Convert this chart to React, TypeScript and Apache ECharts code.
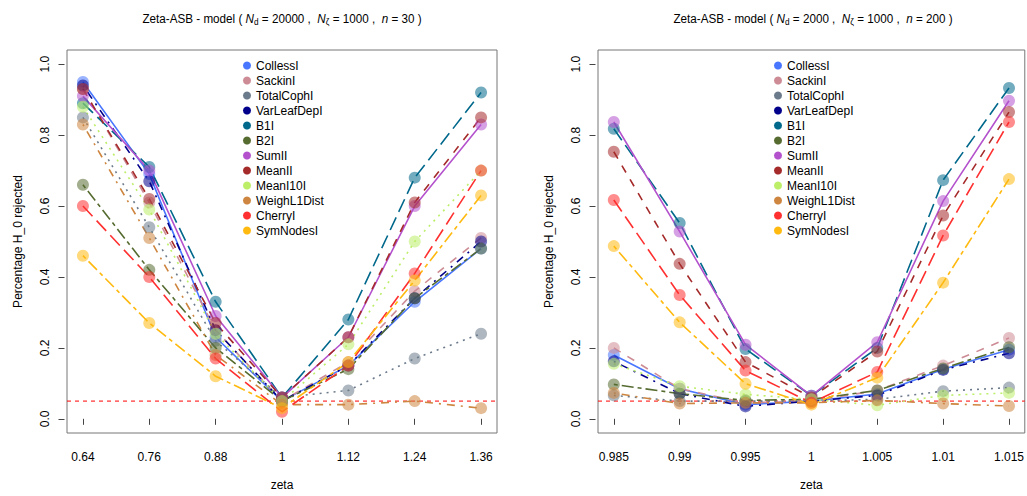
import React, { useEffect, useRef } from "react";
import * as echarts from "echarts";

// ---------- data ----------
const seriesNames = [
  "CollessI", "SackinI", "TotalCophI", "VarLeafDepI", "B1I", "B2I",
  "SumII", "MeanII", "MeanI10I", "WeighL1Dist", "CherryI", "SymNodesI",
];

const zetaLeft = [0.64, 0.76, 0.88, 1, 1.12, 1.24, 1.36];
const zetaRight = [0.985, 0.99, 0.995, 1, 1.005, 1.01, 1.015];
const yTickValues = [0, 0.2, 0.4, 0.6, 0.8, 1];
const threshold = 0.05;

// left panel (N_d = 20000, n = 30)
const leftCollessI = [0.95, 0.69, 0.23, 0.05, 0.15, 0.33, 0.48];
const leftSackinI = [0.93, 0.61, 0.25, 0.05, 0.16, 0.36, 0.51];
const leftTotalCophI = [0.85, 0.54, 0.22, 0.06, 0.08, 0.17, 0.24];
const leftVarLeafDepI = [0.94, 0.67, 0.25, 0.05, 0.15, 0.34, 0.5];
const leftB1I = [0.89, 0.71, 0.33, 0.06, 0.28, 0.68, 0.92];
const leftB2I = [0.66, 0.42, 0.2, 0.05, 0.14, 0.34, 0.48];
const leftSumII = [0.91, 0.7, 0.29, 0.06, 0.23, 0.6, 0.83];
const leftMeanII = [0.93, 0.62, 0.27, 0.06, 0.23, 0.61, 0.85];
const leftMeanI10I = [0.88, 0.59, 0.24, 0.05, 0.21, 0.5, 0.7];
const leftWeighL1Dist = [0.83, 0.51, 0.18, 0.04, 0.04, 0.05, 0.03];
const leftCherryI = [0.6, 0.4, 0.17, 0.02, 0.15, 0.41, 0.7];
const leftSymNodesI = [0.46, 0.27, 0.12, 0.03, 0.16, 0.39, 0.63];

// right panel (N_d = 2000, n = 200)
const rightCollessI = [0.18, 0.085, 0.04, 0.05, 0.07, 0.14, 0.195];
const rightSackinI = [0.2, 0.085, 0.045, 0.05, 0.08, 0.15, 0.228];
const rightTotalCophI = [0.066, 0.05, 0.05, 0.05, 0.055, 0.078, 0.088];
const rightVarLeafDepI = [0.162, 0.071, 0.035, 0.05, 0.066, 0.138, 0.185];
const rightB1I = [0.818, 0.552, 0.197, 0.065, 0.2, 0.673, 0.933];
const rightB2I = [0.097, 0.071, 0.052, 0.055, 0.08, 0.142, 0.202];
const rightSumII = [0.837, 0.528, 0.209, 0.065, 0.216, 0.614, 0.897];
const rightMeanII = [0.753, 0.437, 0.16, 0.06, 0.19, 0.573, 0.865];
const rightMeanI10I = [0.155, 0.092, 0.069, 0.055, 0.038, 0.066, 0.073];
const rightWeighL1Dist = [0.073, 0.043, 0.045, 0.045, 0.052, 0.043, 0.036];
const rightCherryI = [0.617, 0.349, 0.136, 0.045, 0.132, 0.517, 0.837];
const rightSymNodesI = [0.487, 0.272, 0.099, 0.04, 0.116, 0.384, 0.676];

const leftValues = [
  leftCollessI, leftSackinI, leftTotalCophI, leftVarLeafDepI, leftB1I, leftB2I,
  leftSumII, leftMeanII, leftMeanI10I, leftWeighL1Dist, leftCherryI, leftSymNodesI,
];
const rightValues = [
  rightCollessI, rightSackinI, rightTotalCophI, rightVarLeafDepI, rightB1I, rightB2I,
  rightSumII, rightMeanII, rightMeanI10I, rightWeighL1Dist, rightCherryI, rightSymNodesI,
];

// ---------- styles ----------
const colors = [
  "#4876FF", "#CD8C95", "#6C7B8B", "#00008B", "#00688B", "#556B2F",
  "#B452CD", "#A52A2A", "#BCEE68", "#CD853F", "#FF3030", "#FFB90F",
];
const dashPatterns: any[] = [
  "solid", [8, 8], [2, 5], [2, 6, 8, 6], [14, 6], [4, 4, 12, 4],
];

const FONT = "'Liberation Sans', Arial, Helvetica, sans-serif";

function hexToRgba(hex: string, a: number) {
  const r = parseInt(hex.slice(1, 3), 16);
  const g = parseInt(hex.slice(3, 5), 16);
  const b = parseInt(hex.slice(5, 7), 16);
  return `rgba(${r},${g},${b},${a})`;
}

function fmt(v: number) {
  return String(Number(v.toFixed(4)));
}

export default function App() {
  const ref = useRef<HTMLDivElement>(null);

  useEffect(() => {
    if (!ref.current) return;
    const chart = echarts.init(ref.current, null, { renderer: "svg" });

    const grids = [
      { left: 67, top: 50, width: 430, height: 386 },
      { left: 598, top: 50, width: 430, height: 386 },
    ];
    const xRanges = [
      [0.6112, 1.3888],
      [0.9838, 1.0162],
    ];

    const makeX = (idx: number, ticks: number[]) => ({
      type: "value",
      gridIndex: idx,
      min: xRanges[idx][0],
      max: xRanges[idx][1],
      offset: 2,
      name: "zeta",
      nameLocation: "middle",
      nameGap: 44,
      nameTextStyle: { fontFamily: FONT, fontSize: 12, color: "#000" },
      axisLine: { show: false },
      axisTick: {
        show: true,
        length: 6,
        customValues: ticks,
        lineStyle: { color: "#444" },
      },
      axisLabel: {
        show: true,
        customValues: ticks,
        margin: 16,
        fontFamily: FONT,
        fontSize: 12,
        color: "#000",
        formatter: (v: number) => fmt(v),
      },
      splitLine: { show: false },
    });

    const makeY = (idx: number) => ({
      type: "value",
      gridIndex: idx,
      min: -0.04,
      max: 1.04,
      offset: 2.5,
      name: "Percentage H_0 rejected",
      nameLocation: "middle",
      nameGap: 41,
      nameRotate: 90,
      nameTextStyle: { fontFamily: FONT, fontSize: 12, color: "#000" },
      axisLine: { show: false },
      axisTick: {
        show: true,
        length: 6,
        customValues: yTickValues,
        lineStyle: { color: "#444" },
      },
      axisLabel: {
        show: true,
        rotate: 90,
        customValues: yTickValues,
        margin: 14,
        fontFamily: FONT,
        fontSize: 12,
        color: "#000",
        formatter: (v: number) => v.toFixed(1),
      },
      splitLine: { show: false },
    });

    const makeSeries = (panel: number, xs: number[], vals: number[][]) =>
      seriesNames.map((name, i) => ({
        type: "line",
        name,
        xAxisIndex: panel,
        yAxisIndex: panel,
        data: xs.map((x, j) => [x, vals[i][j]]),
        symbol: "circle",
        symbolSize: 12,
        showSymbol: true,
        itemStyle: { color: hexToRgba(colors[i], 0.55) },
        lineStyle: { color: colors[i], width: 1.6, type: dashPatterns[i % 6] },
        emphasis: { disabled: true },
        z: 3,
      }));

    const makeThreshold = (panel: number) => ({
      type: "line",
      name: "threshold",
      xAxisIndex: panel,
      yAxisIndex: panel,
      data: [
        [xRanges[panel][0], threshold],
        [xRanges[panel][1], threshold],
      ],
      symbol: "none",
      showSymbol: false,
      silent: true,
      lineStyle: { color: "#FF0000", width: 1, type: [4, 4] },
      itemStyle: { color: "#FF0000" },
      emphasis: { disabled: true },
      z: 2,
    });

    const legendData = seriesNames.map((name, i) => ({
      name,
      icon: "circle",
      itemStyle: { color: colors[i], opacity: 1 },
    }));

    const makeLegend = (left: number) => ({
      orient: "vertical",
      left,
      top: 58,
      itemWidth: 8,
      itemHeight: 8,
      itemGap: 0,
      padding: 0,
      selectedMode: false,
      textStyle: { fontFamily: FONT, fontSize: 12, color: "#000", lineHeight: 15 },
      data: legendData,
    });

    const titleRich = {
      n: { fontFamily: FONT, fontSize: 13.5, color: "#000", lineHeight: 16 },
      i: { fontFamily: FONT, fontSize: 13.5, color: "#000", fontStyle: "italic", lineHeight: 16 },
      s: { fontFamily: FONT, fontSize: 9.5, color: "#000", verticalAlign: "bottom", lineHeight: 10 },
    };

    const makeTitle = (cx: number, nd: string, nz: string, n: string) => ({
      type: "text",
      x: cx,
      y: 19,
      scaleX: 0.865,
      style: {
        text: `{n|Zeta-ASB - model ( }{i|N}{s|d}{n| = ${nd} ,  }{i|N}{s|ζ}{n| = ${nz} ,  }{i|n}{n| = ${n} )}`,
        rich: titleRich,
        align: "center",
        verticalAlign: "middle",
      },
    });

    chart.setOption({
      animation: false,
      backgroundColor: "#fff",
      grid: grids.map((g) => ({ ...g, show: true, borderColor: "#777", borderWidth: 1, containLabel: false })),
      xAxis: [makeX(0, zetaLeft), makeX(1, zetaRight)],
      yAxis: [makeY(0), makeY(1)],
      legend: [makeLegend(243), makeLegend(774)],
      graphic: [
        makeTitle(282, "20000", "1000", "30"),
        makeTitle(813, "2000", "1000", "200"),
      ],
      series: [
        makeThreshold(0),
        makeThreshold(1),
        ...makeSeries(0, zetaLeft, leftValues),
        ...makeSeries(1, zetaRight, rightValues),
      ],
    });

    return () => chart.dispose();
  }, []);

  return (
    <div
      ref={ref}
      style={{ position: "fixed", left: 0, top: 0, width: 1027, height: 496, background: "#fff" }}
    />
  );
}
